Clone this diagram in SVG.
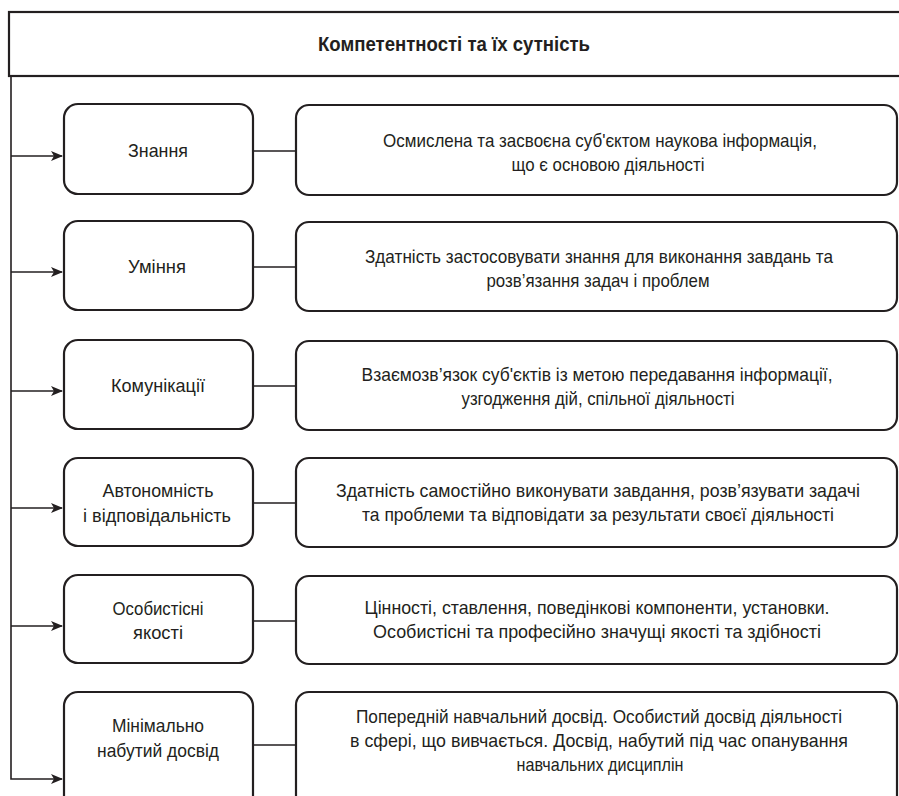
<svg xmlns="http://www.w3.org/2000/svg" width="899" height="796" viewBox="0 0 899 796">
<defs>
<style>
.box{fill:#fff;stroke:#231f20;stroke-width:2.2}
.ln{fill:none;stroke:#231f20;stroke-width:1.6}
text{font-family:"Liberation Sans Narrow","Liberation Sans",Arial,sans-serif;font-size:19px;fill:#231f20;text-anchor:middle}
.t{font-weight:bold;font-size:20px}
</style>
<marker id="ah" markerWidth="12" markerHeight="10" refX="11" refY="5" orient="auto" markerUnits="userSpaceOnUse">
<path d="M0,0 L12,5 L0,10 L3,5 Z" fill="#231f20"/>
</marker>
</defs>
<rect width="899" height="796" fill="#fff"/>
<g id="title">
<rect class="box" x="9" y="12" width="900" height="64"/>
<text class="t" x="454" y="51" textLength="272" lengthAdjust="spacingAndGlyphs">Компетентності та їх сутність</text>
</g>
<g id="connectors">
<path class="ln" d="M11,76 V779 H62" marker-end="url(#ah)"/>
<path class="ln" d="M11,156 H62" marker-end="url(#ah)"/>
<path class="ln" d="M11,272 H62" marker-end="url(#ah)"/>
<path class="ln" d="M11,391 H62" marker-end="url(#ah)"/>
<path class="ln" d="M11,508 H62" marker-end="url(#ah)"/>
<path class="ln" d="M11,626 H62" marker-end="url(#ah)"/>
<path class="ln" d="M253,151 H296 M253,267 H296 M253,386 H296 M253,503 H296 M253,621 H296 M253,745 H296"/>
</g>
<g id="k1">
<rect class="box" x="64" y="104" width="189" height="90" rx="14"/>
<text x="158" y="157" textLength="60" lengthAdjust="spacingAndGlyphs">Знання</text>
</g>
<g id="d1">
<rect class="box" x="296" y="105" width="601" height="90" rx="13"/>
<text x="600" y="147" textLength="434" lengthAdjust="spacingAndGlyphs">Осмислена та засвоєна суб'єктом наукова інформація,</text>
<text x="608" y="171" textLength="193" lengthAdjust="spacingAndGlyphs">що є основою діяльності</text>
</g>
<g id="k2">
<rect class="box" x="64" y="221" width="189" height="89" rx="14"/>
<text x="157" y="273" textLength="58" lengthAdjust="spacingAndGlyphs">Уміння</text>
</g>
<g id="d2">
<rect class="box" x="296" y="222" width="601" height="89" rx="13"/>
<text x="599" y="263" textLength="468" lengthAdjust="spacingAndGlyphs">Здатність застосовувати знання для виконання завдань та</text>
<text x="598" y="287" textLength="223" lengthAdjust="spacingAndGlyphs">розв’язання задач і проблем</text>
</g>
<g id="k3">
<rect class="box" x="64" y="340" width="189" height="89" rx="14"/>
<text x="158" y="392" textLength="94" lengthAdjust="spacingAndGlyphs">Комунікації</text>
</g>
<g id="d3">
<rect class="box" x="296" y="341" width="601" height="89" rx="13"/>
<text x="597" y="381" textLength="471" lengthAdjust="spacingAndGlyphs">Взаємозв’язок суб'єктів із метою передавання інформації,</text>
<text x="598" y="405" textLength="273" lengthAdjust="spacingAndGlyphs">узгодження дій, спільної діяльності</text>
</g>
<g id="k4">
<rect class="box" x="64" y="458" width="189" height="88" rx="14"/>
<text x="158" y="497" textLength="111" lengthAdjust="spacingAndGlyphs">Автономність</text>
<text x="157" y="522" textLength="148" lengthAdjust="spacingAndGlyphs">і відповідальність</text>
</g>
<g id="d4">
<rect class="box" x="296" y="458" width="601" height="89" rx="13"/>
<text x="598" y="497" textLength="524" lengthAdjust="spacingAndGlyphs">Здатність самостійно виконувати завдання, розв’язувати задачі</text>
<text x="598" y="521" textLength="472" lengthAdjust="spacingAndGlyphs">та проблеми та відповідати за результати своєї діяльності</text>
</g>
<g id="k5">
<rect class="box" x="64" y="575" width="189" height="88" rx="14"/>
<text x="158" y="615" textLength="91" lengthAdjust="spacingAndGlyphs">Особистісні</text>
<text x="158" y="639" textLength="50" lengthAdjust="spacingAndGlyphs">якості</text>
</g>
<g id="d5">
<rect class="box" x="296" y="576" width="601" height="88" rx="13"/>
<text x="597" y="614" textLength="465" lengthAdjust="spacingAndGlyphs">Цінності, ставлення, поведінкові компоненти, установки.</text>
<text x="597" y="638" textLength="448" lengthAdjust="spacingAndGlyphs">Особистісні та професійно значущі якості та здібності</text>
</g>
<g id="k6">
<rect class="box" x="64" y="692" width="189" height="120" rx="14"/>
<text x="158" y="732" textLength="92" lengthAdjust="spacingAndGlyphs">Мінімально</text>
<text x="158" y="757" textLength="122" lengthAdjust="spacingAndGlyphs">набутий досвід</text>
</g>
<g id="d6">
<rect class="box" x="296" y="692" width="601" height="120" rx="13"/>
<text x="599" y="723" textLength="486" lengthAdjust="spacingAndGlyphs">Попередній навчальний досвід. Особистий досвід діяльності</text>
<text x="599" y="747" textLength="498" lengthAdjust="spacingAndGlyphs">в сфері, що вивчається. Досвід, набутий під час опанування</text>
<text x="600" y="771" textLength="167" lengthAdjust="spacingAndGlyphs">навчальних дисциплін</text>
</g>
</svg>
